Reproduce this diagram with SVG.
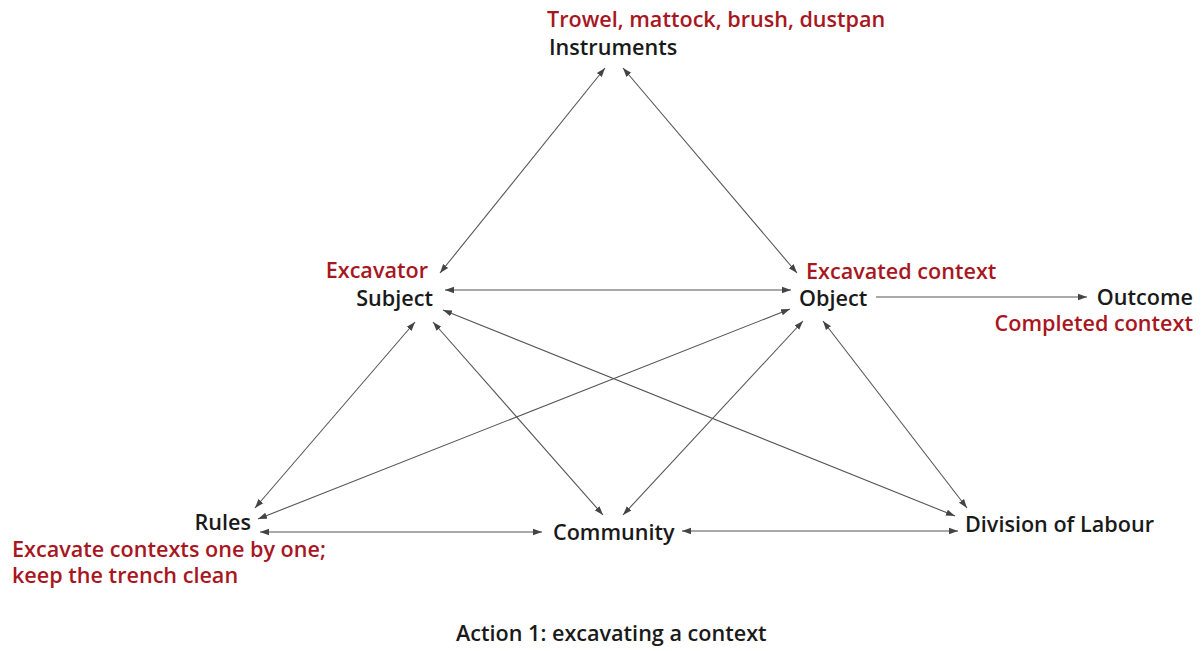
<svg xmlns="http://www.w3.org/2000/svg" width="1201" height="651" viewBox="0 0 1201 651">
<style>
text{font-family:"Open Sans","Liberation Sans",sans-serif;font-weight:600;font-size:21.6px}
.k{fill:#1a1a1a}
.r{fill:#a8171f}
.e{stroke:#555;stroke-width:1.1;fill:none}
</style>
<defs>
<marker id="a" viewBox="0 0 10 10" refX="10" refY="5" markerWidth="9" markerHeight="9" markerUnits="userSpaceOnUse" orient="auto-start-reverse">
<path d="M0,1.5 L10,5 L0,8.5 Z" fill="#444"/>
</marker>
</defs>
<rect width="1201" height="651" fill="#fff"/>
<g id="connectors">
<line class="e" x1="440" y1="273" x2="605" y2="68" marker-start="url(#a)" marker-end="url(#a)"/>
<line class="e" x1="797" y1="273" x2="623" y2="68" marker-start="url(#a)" marker-end="url(#a)"/>
<line class="e" x1="445" y1="290" x2="791" y2="290" marker-start="url(#a)" marker-end="url(#a)"/>
<line class="e" x1="876" y1="297" x2="1087" y2="297" marker-end="url(#a)"/>
<line class="e" x1="415" y1="322" x2="255" y2="508" marker-start="url(#a)" marker-end="url(#a)"/>
<line class="e" x1="433" y1="322" x2="603" y2="515" marker-start="url(#a)" marker-end="url(#a)"/>
<line class="e" x1="443" y1="310" x2="955" y2="516" marker-start="url(#a)" marker-end="url(#a)"/>
<line class="e" x1="790" y1="309" x2="258" y2="519" marker-start="url(#a)" marker-end="url(#a)"/>
<line class="e" x1="803" y1="321" x2="623" y2="515" marker-start="url(#a)" marker-end="url(#a)"/>
<line class="e" x1="823" y1="321" x2="967" y2="508" marker-start="url(#a)" marker-end="url(#a)"/>
<line class="e" x1="260" y1="532" x2="542" y2="532" marker-start="url(#a)" marker-end="url(#a)"/>
<line class="e" x1="682" y1="531" x2="958" y2="531" marker-start="url(#a)" marker-end="url(#a)"/>
</g>
<g id="instruments">
<text class="r" x="547" y="27">Trowel, mattock, brush, dustpan</text>
<text class="k" x="549" y="55">Instruments</text>
</g>
<g id="subject">
<text class="r" x="428" y="278" text-anchor="end">Excavator</text>
<text class="k" x="433" y="306" text-anchor="end">Subject</text>
</g>
<g id="object">
<text class="r" x="806" y="279">Excavated context</text>
<text class="k" x="799" y="306">Object</text>
</g>
<g id="outcome">
<text class="k" x="1193" y="305" text-anchor="end">Outcome</text>
<text class="r" x="1193" y="331" text-anchor="end">Completed context</text>
</g>
<g id="rules">
<text class="k" x="251" y="530" text-anchor="end">Rules</text>
<text class="r" x="12" y="557">Excavate contexts one by one;</text>
<text class="r" x="12" y="583">keep the trench clean</text>
</g>
<g id="community">
<text class="k" x="553" y="540">Community</text>
</g>
<g id="division">
<text class="k" x="965" y="532">Division of Labour</text>
</g>
<g id="caption">
<text class="k" x="456" y="641">Action 1: excavating a context</text>
</g>
</svg>
